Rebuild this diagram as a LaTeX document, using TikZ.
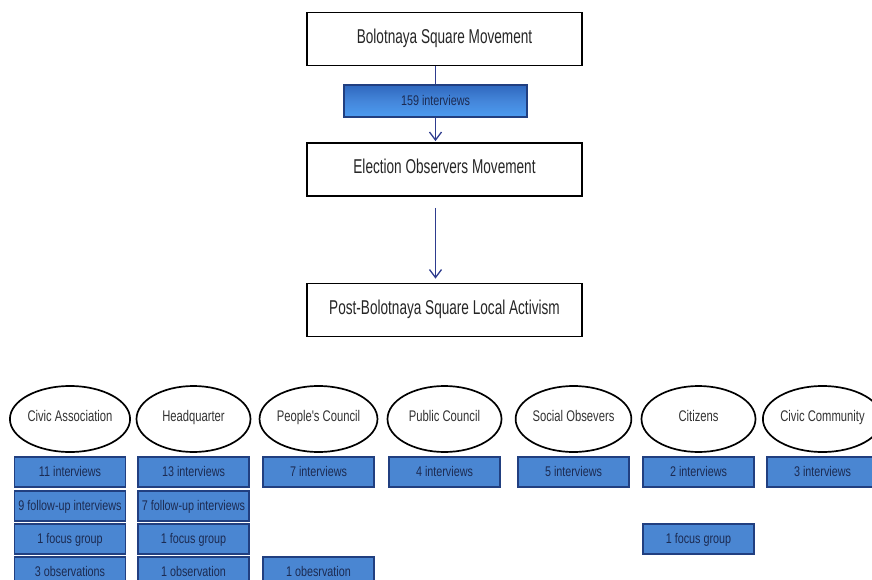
\documentclass[tikz,border=0pt]{standalone}
\usepackage{fontspec}
\setmainfont[FakeStretch=0.76]{Liberation Sans}
\newfontfamily\stagefont[FakeStretch=0.68]{Liberation Sans}
\newfontfamily\groupfont[FakeStretch=0.73]{Liberation Sans}
\newfontfamily\datumfont[FakeStretch=0.77]{Liberation Sans}
\usetikzlibrary{arrows.meta,shapes.geometric}
\definecolor{boxblue}{HTML}{4A86D2}
\definecolor{boxedge}{HTML}{213F80}
\definecolor{boxtext}{HTML}{1C2B52}
\definecolor{arrowblue}{HTML}{2E3C8E}
\definecolor{gradtop}{HTML}{2F68BE}
\definecolor{gradmid}{HTML}{4486DA}
\definecolor{gradbot}{HTML}{4C9CF0}
\begin{document}
\begin{tikzpicture}[x=1pt,y=-1pt,
  stage/.style={draw=black,line width=1.8pt,fill=white,minimum width=275pt,minimum height=53pt,inner sep=0pt,text=black!85,font=\stagefont\fontsize{20}{22}\selectfont,text height=0.98em,text depth=0.15em},
  group/.style={ellipse,draw=black,line width=1.7pt,fill=white,minimum width=114pt,minimum height=66pt,inner sep=0pt,text=black!80,font=\groupfont\fontsize{15.4}{18}\selectfont,text height=0.8em,text depth=0.24em},
  datum/.style={draw=boxedge,line width=1.3pt,fill=boxblue,minimum width=111pt,minimum height=30pt,inner sep=0pt,text=boxtext,font=\datumfont\fontsize{14}{16}\selectfont,text height=0.98em,text depth=0.15em},
  countbar/.style={draw=boxedge,line width=1.3pt,top color=gradtop,bottom color=gradbot,middle color=gradmid,minimum width=183pt,minimum height=32pt,inner sep=0pt,text=boxtext,font=\datumfont\fontsize{14}{16}\selectfont,text height=0.98em,text depth=0.15em},
  flow/.style={draw=arrowblue,line width=1.3pt},
  flowtip/.style={flow,-{Straight Barb[length=8pt,width=12pt,line width=1.3pt]}}
]
\useasboundingbox (0,0) rectangle (872,580);

% stages
\node[stage] (bsm) at (444.5,39) {Bolotnaya Square Movement};
\node[countbar] (bar) at (435.5,101) {159 interviews};
\node[stage] (eom) at (444.5,169.5) {Election Observers Movement};
\node[stage] (pbs) at (444.5,310) {Post-Bolotnaya Square Local Activism};

\draw[flow] (bsm.south -| bar.north) -- (bar.north);
\draw[flowtip] (bar.south) -- ([yshift=1pt]eom.north -| bar.south);
\draw[flowtip] ([yshift=-11pt]eom.south -| bar.south) -- ([yshift=4pt]pbs.north -| bar.south);

% groups
\node[group] (ca) at (70,419) {Civic Association};
\node[group] (hq) at (193.5,419) {Headquarter};
\node[group] (pc) at (318.5,419) {People's Council};
\node[group] (puc) at (444.5,419) {Public Council};
\node[group] (so) at (573.5,419) {Social Obsevers};
\node[group] (ci) at (698.5,419) {Citizens};
\node[group] (cc) at (822.5,419) {Civic Community};

% row 1
\node[datum] (ca1) at (70,472) {11 interviews};
\node[datum] (hq1) at (193.5,472) {13 interviews};
\node[datum] (pc1) at (318.5,472) {7 interviews};
\node[datum] (puc1) at (444.5,472) {4 interviews};
\node[datum] (so1) at (573.5,472) {5 interviews};
\node[datum] (ci1) at (698.5,472) {2 interviews};
\node[datum] (cc1) at (822.5,472) {3 interviews};

% row 2
\node[datum] (ca2) at (70,506) {9 follow-up interviews};
\node[datum] (hq2) at (193.5,506) {7 follow-up interviews};

% row 3
\node[datum] (ca3) at (70,539) {1 focus group};
\node[datum] (hq3) at (193.5,539) {1 focus group};
\node[datum] (ci3) at (698.5,539) {1 focus group};

% row 4
\node[datum] (ca4) at (70,572) {3 observations};
\node[datum] (hq4) at (193.5,572) {1 observation};
\node[datum] (pc4) at (318.5,572) {1 obesrvation};
\end{tikzpicture}
\end{document}
